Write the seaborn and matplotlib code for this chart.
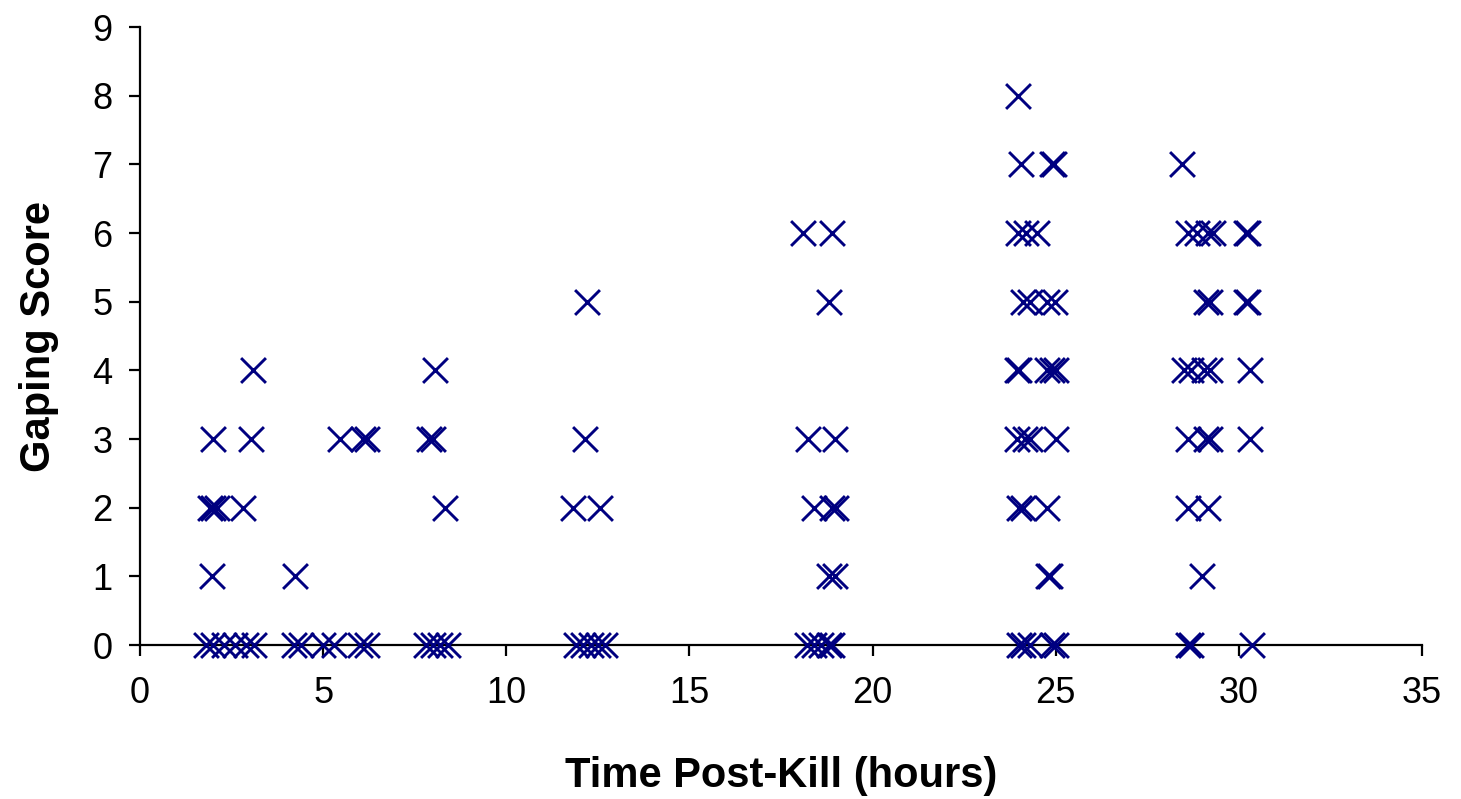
import numpy as np
import pandas as pd
import seaborn as sns
import matplotlib.pyplot as plt

# gaping score, grouped by score level (time in hours post-kill)
t_score0 = [1.8, 2.0, 2.3, 2.6, 2.9, 3.1, 4.2, 4.4, 5.0, 5.3, 6.0, 6.2, 7.8, 8.0, 8.2, 8.4,
            11.9, 12.1, 12.3, 12.5, 12.7, 18.2, 18.4, 18.6, 18.8, 18.9,
            24.0, 24.1, 24.3, 24.9, 25.0, 28.6, 28.7, 30.35]
t_score1 = [1.97, 4.23, 18.8, 18.97, 24.8, 24.85, 29.0]
t_score2 = [1.9, 2.0, 2.1, 2.8, 8.33, 11.83, 12.56, 18.4, 18.9, 19.0, 24.0, 24.1, 24.75, 28.6, 29.15]
t_score3 = [2.0, 3.03, 5.46, 6.1, 6.2, 7.9, 8.0, 12.15, 18.24, 18.97, 23.95, 24.15, 24.3, 25.0,
            28.6, 29.1, 29.2, 30.3]
t_score4 = [3.08, 8.05, 23.94, 24.0, 24.75, 24.9, 25.0, 28.5, 28.7, 29.05, 29.2, 30.3]
t_score5 = [12.2, 18.8, 24.1, 24.3, 24.75, 24.98, 29.1, 29.2, 30.2, 30.25]
t_score6 = [18.1, 18.9, 23.97, 24.2, 24.5, 28.6, 28.85, 29.15, 29.3, 30.2, 30.25]
t_score7 = [24.05, 24.9, 24.95, 28.45]
t_score8 = [23.97]

groups = [t_score0, t_score1, t_score2, t_score3, t_score4, t_score5, t_score6, t_score7, t_score8]
rows = []
for score, times in enumerate(groups):
    for t in times:
        rows.append({"time": t, "score": score})
df = pd.DataFrame(rows)

sns.set_style("white")
plt.rcParams['font.family'] = ['Liberation Sans', 'DejaVu Sans']
plt.rcParams['text.color'] = 'black'
plt.rcParams['axes.labelcolor'] = 'black'

fig = plt.figure(figsize=(14.61, 7.99), dpi=100)
ax = fig.add_axes([0.0958, 0.1927, 0.8775, 0.7735])

sns.scatterplot(data=df, x="time", y="score", marker="x", color="#000080",
                s=320, linewidth=2.1, ax=ax, clip_on=False, zorder=3)

ax.set_xlim(0, 35)
ax.set_ylim(0, 9)
ax.set_xticks(range(0, 36, 5))
ax.set_yticks(range(0, 10))
sns.despine(ax=ax)
for s in ["left", "bottom"]:
    ax.spines[s].set_color("black")
    ax.spines[s].set_linewidth(1.6)
ax.tick_params(axis="both", direction="out", length=8, width=1.6, color="black",
               labelsize=26, labelcolor="black", bottom=True, left=True)
ax.tick_params(axis="y", pad=12)
ax.tick_params(axis="x", pad=14)

ax.set_xlabel("Time Post-Kill (hours)", fontsize=30, fontweight="bold", labelpad=33)
ax.set_ylabel("Gaping Score", fontsize=30, fontweight="bold", labelpad=24)

plt.savefig("out.png", dpi=100)
